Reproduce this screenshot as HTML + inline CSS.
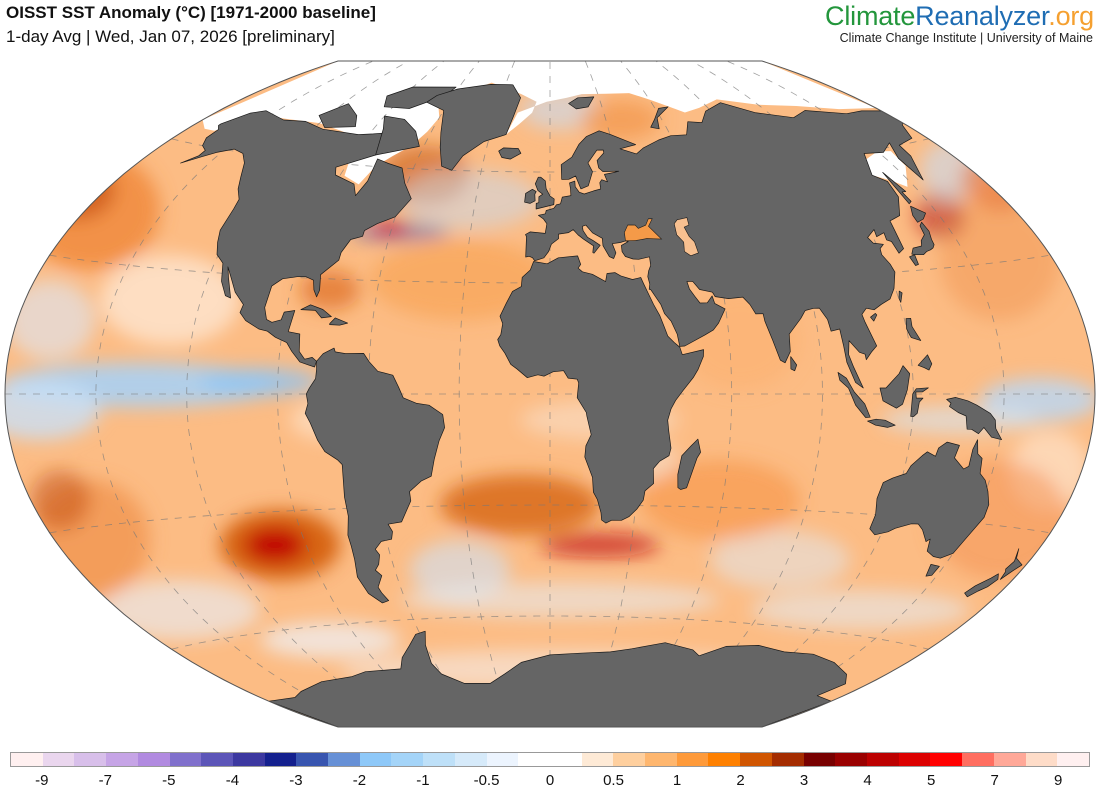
<!DOCTYPE html>
<html><head><meta charset="utf-8"><style>
html,body{margin:0;padding:0;background:#fff;width:1100px;height:794px;overflow:hidden;font-family:"Liberation Sans",sans-serif}
.t1{position:absolute;left:6px;top:3px;font-size:17px;font-weight:bold;color:#111}
.t2{position:absolute;left:6px;top:27px;font-size:17px;color:#111}
.logo{position:absolute;right:6px;top:1px;font-size:27px;letter-spacing:-0.2px}
.sub{position:absolute;right:7px;top:31px;font-size:12.5px;color:#222}
#cb{position:absolute;left:10px;top:752px;width:1080px;height:15px;border:1px solid #999;box-sizing:border-box;display:flex}
#cb div{flex:1}
.lb{position:absolute;top:772px;font-size:15px;color:#111;transform:translateX(-50%)}
</style></head><body>
<div class="t1">OISST SST Anomaly (°C) [1971-2000 baseline]</div>
<div class="t2">1-day Avg | Wed, Jan 07, 2026 [preliminary]</div>
<div class="logo"><span style="color:#23963c">Climate</span><span style="color:#1f6db3">Reanalyzer</span><span style="color:#f5a030">.org</span></div>
<div class="sub">Climate Change Institute | University of Maine</div>
<svg id="map" width="1100" height="794" style="position:absolute;left:0;top:0" xmlns="http://www.w3.org/2000/svg"></svg>
<div id="cb"></div>
<div id="lbs"></div>
<script>
const PI=Math.PI,S=212,CX=550,CY=394;
function P(lon,lat){const l=lon*PI/180,p=lat*PI/180;const a=Math.acos(Math.max(-1,Math.min(1,Math.cos(p)*Math.cos(l/2))));const s=a<1e-9?1:Math.sin(a)/a;
const x=0.5*(l*2/PI+2*Math.cos(p)*Math.sin(l/2)/s);const y=0.5*(p+Math.sin(p)/s);return [CX+x*S,CY-y*S];}
function dens(pts){let o=[];for(let i=0;i<pts.length;i++){const a=pts[i],b=pts[(i+1)%pts.length];o.push(a);if((Math.abs(a[1])>=89.9&&Math.abs(b[1])>=89.9)){const n=Math.ceil(Math.abs(b[0]-a[0])/5);for(let k=1;k<n;k++)o.push([a[0]+(b[0]-a[0])*k/n,a[1]]);}}return o;}
function path(pts,close=true){if(close)pts=dens(pts);return 'M'+pts.map(q=>{const r=P(q[0],q[1]);return r[0].toFixed(1)+','+r[1].toFixed(1)}).join('L')+(close?'Z':'');}
let ol=[];for(let la=-90;la<=90;la+=2)ol.push([180,la]);for(let lo=180;lo>=-180;lo-=5)ol.push([lo,90]);for(let la=90;la>=-90;la-=2)ol.push([-180,la]);for(let lo=-180;lo<=180;lo+=5)ol.push([lo,-90]);
const OUT='M'+ol.map(q=>{const r=P(q[0],q[1]);return r[0].toFixed(1)+','+r[1].toFixed(1)}).join('L')+'Z';
const land=[
[[-168,66],[-162,70],[-156,71.3],[-140,69.6],[-128,70],[-115,68.5],[-95,68],[-88,68.5],[-82,69],[-80,63],[-94,59],[-92,57],[-82,55],[-79,52],[-77,56],[-78,62],[-72,61],[-65,60],[-61,56],[-56,52],[-60,47],[-66,45],[-70,43],[-70,41.5],[-74,40.5],[-76,37],[-76,35],[-81,31],[-80,27],[-80.5,25.2],[-82,27],[-83,29.5],[-86,30.3],[-89,30.2],[-94,29.5],[-97,27.5],[-97.5,22],[-96,19],[-94,18.3],[-91,19],[-90.5,21],[-87,21.5],[-88,16],[-84,15.5],[-83.5,11],[-81.5,9],[-79,9.5],[-77.5,8.5],[-78,7],[-80,7.5],[-83,8.3],[-86,11],[-88,13.2],[-92,14.5],[-95,16],[-98,16.5],[-103,18.5],[-105.5,20.5],[-105,22.5],[-109,25.5],[-112.5,29.5],[-114.7,31.7],[-113,29],[-110,24],[-112,24.5],[-115,28],[-117,32.5],[-120.5,34.5],[-122.5,37.5],[-124,40.5],[-124,46],[-124.5,48.5],[-128,51],[-131,54],[-135,57.5],[-140,59.8],[-146,60.5],[-152,59],[-156,57.5],[-162,55],[-158,57.5],[-158,59],[-162,60],[-165,62],[-165,64.5],[-168,65.5]],
[[-80,63],[-62,66],[-68,70],[-78,73],[-90,73.5],[-85,70]],
[[-95,76],[-80,76],[-65,80],[-62,82.5],[-90,82],[-100,79]],
[[-125,72],[-117,76],[-105,73],[-100,70],[-115,69]],
[[-73,78],[-60,76],[-55,70],[-52,66],[-48,61],[-43,60],[-40,64],[-32,68],[-22,70],[-20,75],[-18,80],[-25,83.5],[-40,83.5],[-60,82],[-70,80]],
[[-24,65.5],[-22,66.4],[-15,66.3],[-13.5,65],[-18,63.4],[-22,63.8]],
[[5,58],[5,62],[10,64],[14,67.5],[18,69.5],[25,71],[30,70],[41,67],[33,66],[40,64.5],[44,66],[53,68],[60,69],[68,69],[73,72.5],[80,72],[87,75],[100,77],[113,73.5],[130,71],[141,72.5],[160,70],[170,70],[180,69],[180,65],[178,64.5],[173,61],[163,60],[162,57],[156,51],[155.5,57],[160,61],[152,59],[143,59.5],[137,54],[141,52],[140,48],[135,43.5],[130,42.5],[129.5,40],[129,35.5],[126.5,34.5],[126,37.5],[124.5,38],[125,39.8],[121.5,39],[122,40.8],[118,39],[119,37.5],[122.5,37],[120.5,36],[120,34.5],[121.5,32],[122,30],[119.5,26],[117,23.5],[113.5,22.3],[110.5,21],[108,21.5],[106,20],[106.5,18],[109,12],[107,10.5],[105,8.6],[104.8,10],[103,10.5],[100,13.5],[99.3,10],[100.5,7],[103.5,1.5],[101,2.9],[98.5,8],[98,12],[97.5,16.5],[94.5,16],[94,19],[92,22],[90,22],[87,21.5],[85,19.5],[80.3,15.5],[80,11],[78,8.1],[76.5,8.8],[74.5,14],[72.7,19],[72.5,21],[70,21],[68.5,23.5],[66.5,25.5],[61.5,25.2],[57,25.8],[56.3,27],[52,27.8],[50,30],[48,30],[48.5,28],[50,26],[51.5,24.2],[54,24.2],[56,26],[56.5,24],[59.8,22.5],[57,18.8],[55,17],[52,15.7],[45,12.8],[43.3,12.7],[42.7,16],[41,19.5],[39,21.5],[38,24],[35,28],[34.5,28.1],[34.9,29.5],[34.5,31.5],[35,33],[36,34.5],[36,36.8],[32,36.2],[30,36.3],[27.3,37],[26.3,38.3],[26.3,40],[29,41],[28,41.2],[26,40.8],[23,40.5],[24,38],[23,36.5],[21.5,37],[19.5,40],[19.5,42],[16,43.5],[13.7,45.6],[12.3,45.3],[12.5,44.1],[14,42.3],[16,41.4],[18.5,40.1],[16,38],[15.6,38.2],[16,40],[12.5,41.8],[10.5,43],[8.8,44.4],[7,43.6],[3.2,43.2],[3.2,42],[0.5,40.5],[-0.5,38.5],[-2.2,36.8],[-5.5,36],[-6.3,36.8],[-7.5,37.2],[-8.8,37],[-8.8,42.5],[-9.2,43.1],[-7.5,43.8],[-1.8,43.4],[-1.2,46],[-2.5,47.3],[-4.5,48.3],[-1.8,48.7],[-1.5,49.6],[1.5,50.2],[2.5,51.1],[4.2,51.4],[5,53.2],[8.5,53.6],[8.5,55.5],[8.2,57],[10.5,57.5],[10.5,56],[12,54.5],[14,54],[18,54.8],[21,55.3],[21,57],[22,57.8],[24.3,57.2],[23.5,59.2],[28,59.7],[30,60],[23,60],[21.5,61],[21.3,63],[25,65],[25,65.8],[22,65.8],[17,62.4],[18.5,60],[16,56.2],[12.8,55.4],[11,58.9],[8,58]],
[[-5.9,35.8],[-1,35.2],[3,36.8],[10,37.3],[11,35],[10,34],[11.5,33],[15,32.3],[19.5,30.3],[20.2,32.5],[23,32.7],[25,31.8],[29,30.8],[32,31.3],[32.6,29.9],[33.8,27.5],[35.5,24],[37.3,21],[38.5,18],[39.5,15.5],[41.5,13.8],[43.3,12.5],[44,10.5],[51.2,11.8],[51,10],[49,6.5],[47.5,4.5],[44,1],[41.5,-1.7],[40,-4],[39,-7],[39.5,-10],[40.5,-14.5],[40,-16.5],[37,-18],[35,-20],[35.5,-24],[32.8,-26],[32.5,-28.5],[30.5,-31],[28,-33],[25.5,-34],[22,-34],[20,-34.8],[18.4,-34],[18,-32],[16.5,-28.5],[15,-26.5],[14.5,-22.5],[11.7,-17],[12,-14],[13.7,-11],[12.2,-6],[12,-5],[9,-1],[9.5,3],[9,4],[6,4.3],[4.5,6.3],[1,6],[-2,4.8],[-4,5.2],[-7.5,4.4],[-11,6.8],[-13,8],[-15,11],[-16.8,13],[-17.5,14.7],[-16.5,16],[-16,19],[-17,21],[-15,24.5],[-13,27.7],[-10,29],[-9.8,31.5],[-7,33.5]],
[[44,-25],[45,-25.5],[47,-25],[49.5,-17],[50.5,-15.5],[49.3,-12],[47,-14],[44.3,-16.5],[43.5,-21.5]],
[[-77.5,8.5],[-75.5,10.5],[-72,12],[-71.5,11],[-68,10.6],[-62,10.7],[-60,8.5],[-57,6],[-52,5],[-50,1.8],[-48.5,-1],[-44,-2.5],[-40,-3],[-35.5,-5.5],[-35,-9],[-37,-12.5],[-39,-17.5],[-40.5,-22],[-44,-23.2],[-48.5,-26],[-48.5,-28.5],[-50.5,-31],[-53,-34],[-58,-34.5],[-57,-36.5],[-58,-38.5],[-62,-39],[-65,-41],[-64,-42.5],[-65.5,-45],[-67.5,-46.5],[-65.8,-48],[-69,-51],[-68.5,-52.5],[-67,-54.7],[-70,-55.2],[-74,-52.5],[-75.5,-48],[-74,-43.5],[-73.5,-40],[-73.5,-37],[-71.5,-32],[-71.3,-27],[-70.2,-18.5],[-71.5,-17.3],[-75.5,-15],[-77.5,-12],[-79.5,-7.5],[-81,-5],[-80,-2.5],[-80.5,0],[-79.5,1.5],[-77.5,4],[-77.3,6.5]],
[[114,-22],[113.5,-26],[115,-30],[115,-33.6],[117.8,-35],[122,-34],[124,-33],[129,-31.6],[131.5,-31.5],[134,-32.8],[137.5,-35.5],[138.5,-34.8],[140,-37.7],[143.5,-38.8],[146.5,-39],[150,-37.5],[151.2,-33.8],[153.5,-28.5],[153,-25.5],[150.8,-22.5],[148.5,-20],[146,-18.5],[145.3,-15],[143.5,-14],[142.5,-10.7],[141.5,-13],[141.5,-17],[140,-17.7],[136,-15.2],[136.8,-12.2],[132.5,-11.5],[130,-13],[129.5,-15],[126.5,-14],[125,-15],[122,-17.5],[121,-19.5],[117,-20.7]],
[[144.6,-40.7],[148.3,-40.9],[148,-43.2],[146,-43.6]],
[[172.7,-34.4],[174.5,-36.5],[178.5,-37.7],[177,-39.3],[175.2,-41.6],[174.6,-39.8],[173.8,-39.2],[174.6,-37.2]],
[[172.6,-40.5],[174.3,-41.7],[173,-43.7],[171,-45],[169,-46.7],[166.5,-46],[168,-44],[171.3,-41.7]],
[[-180,-78],[-160,-78],[-150,-76.5],[-130,-74.5],[-110,-74],[-100,-73],[-80,-73],[-75,-70],[-68,-67],[-62,-64],[-57,-63.3],[-60,-67],[-62,-72],[-60,-75],[-50,-77.8],[-35,-78],[-25,-75.5],[-15,-72.5],[0,-70.5],[15,-70],[30,-69.5],[40,-68.5],[55,-66.5],[70,-68],[75,-69.5],[85,-66.5],[100,-65.5],[115,-66.5],[130,-66.2],[145,-67.5],[160,-70],[168,-72.5],[165,-77],[180,-78],[180,-90],[-180,-90]],
[[130.9,34],[132.5,35.4],[136,35.7],[137,37],[139.5,38.3],[140,40.5],[141.5,41.3],[142,39],[141,37],[140.8,35.7],[139.8,35],[138.5,34.6],[136.8,34.3],[135,33.6],[132,33.8]],
[[129.6,33.4],[131.8,33.8],[131.5,31.4],[130.3,31.2]],
[[140,41.4],[140,43.2],[141.8,45.4],[145.5,43.3],[143,42]],
[[142,46],[143.5,46.5],[143,49],[144.7,49],[142.5,54.3],[142,51]],
[[120.3,22.5],[121.8,24.8],[121,25.3],[120.1,23.5]],
[[108.7,19.2],[110.6,20.1],[111,19.7],[109.5,18.2]],
[[79.8,6.5],[80,9.7],[81.8,7.5],[81,6]],
[[120,16],[120.6,18.5],[122.2,18.5],[122,16.5],[124,13],[121,13.8],[120.6,14.5]],
[[122,7],[125.5,9.5],[126.6,7.3],[125.5,5.8],[124,6.4]],
[[109,1.5],[110,-1.7],[114.5,-3.5],[116.5,-2.5],[118,1],[119,5],[117,7],[115.5,5],[113,3.1],[111,1.5]],
[[95.3,5.5],[98,4],[100.5,0.5],[104,-2.5],[106,-5.8],[104.5,-5.9],[101,-2.8],[98.6,1.5],[95.8,3.5]],
[[105.2,-6.8],[108,-6.3],[111,-6.5],[114.5,-7.7],[112,-8.3],[108,-7.8]],
[[119.4,-5.5],[119.8,0],[121,1.3],[125,1.5],[123,0.5],[120.8,0.5],[121,-1],[123.2,-1],[122,-2],[121.5,-4.7],[120.4,-5.5]],
[[131,-1.3],[134,-0.8],[138,-1.6],[141,-2.6],[145.7,-4.5],[147.5,-6],[148,-8],[150.5,-10.5],[147,-10],[144,-7.8],[142.5,-9.3],[140,-8.3],[138.5,-8.3],[137.7,-5.2],[135,-4.4],[132,-3],[132.5,-2.2]],
[[-5.5,50],[1.5,51.2],[1.7,52.7],[0,53.5],[-1.6,55.5],[-2,57.6],[-4,58.6],[-5,58.6],[-6.2,56.8],[-5,55],[-3,54],[-4.5,53.3],[-4.5,51.7],[-5.5,51.5]],
[[-6,52.2],[-6.2,54],[-5.7,54.7],[-7.3,55.3],[-10,54.2],[-10.2,51.8],[-8,51.5]],
[[-85,21.8],[-82,23.1],[-77.5,22],[-74.2,20.2],[-77.5,19.8],[-80,21.7]],
[[-74.4,18.4],[-72.8,19.9],[-68.4,18.6],[-71,18],[-74.4,18.1]],
[[52,71.5],[56,73.5],[62,76.5],[68,76.8],[58,74],[56,71]],
[[11,78.5],[17,80],[27,80.2],[22,77.5],[15,77]]
];
const seas=[
[[28,41.3],[28,43.5],[29.7,45.5],[32.5,45.4],[33.5,44.5],[36.5,45.3],[38,47],[39.5,47],[37.5,45],[41.5,41.5],[36,41.7],[31.5,41.2]],
[[49,46.5],[53,47],[53,45],[51,44.5],[52,42],[53.5,40.5],[54,37.5],[51,36.8],[49,38],[49.5,40.5],[47.5,42.5],[47.5,45.5]]
];
const ice=[
[[-180,66],[-172,64],[-166,64],[-162,66],[-160,70],[-140,70],[-120,70],[-100,68],[-92,64],[-88,57],[-80,55],[-77,60],[-72,63],[-66,66],[-62,70],[-60,74],[-66,78],[-40,84],[-18,81],[-8,79],[-10,76],[-16,73],[-22,70],[-18,76],[-2,79],[10,80],[20,81],[35,81],[50,81],[60,79],[68,77],[75,75],[85,76],[100,78],[120,75.5],[140,74],[160,71.5],[180,70],[180,90],[-180,90]],
[[137,54],[141,58],[150,59.5],[156,59],[155,55],[147,50],[143,52]]
];
const blobs=[
[90,210,70,60,'#f08a3c',0.85],[75,190,40,30,'#c85010',0.7],[170,300,70,45,'#ffffff',0.5],[50,320,45,40,'#dce8f8',0.6],
[140,385,140,22,'#a8d0f4',0.9],[260,382,60,14,'#8ec4f4',0.8],[40,410,60,30,'#c8e0f8',0.8],[330,420,40,20,'#fde8d4',0.6],
[1040,400,60,22,'#b8d8f8',0.8],[960,420,80,14,'#d4e8f8',0.6],[1050,470,40,40,'#ffffff',0.4],
[280,545,60,35,'#d05500',0.85],[275,545,30,17,'#c00000',0.95],[180,610,80,30,'#e8f0fc',0.6],[90,540,60,60,'#f09048',0.7],[60,500,30,30,'#c04a10',0.5],
[520,505,80,30,'#d86a1a',0.85],[600,545,60,12,'#c01010',0.7],[460,570,50,30,'#cfe2f8',0.6],[560,600,160,18,'#e6eef8',0.55],
[780,560,70,30,'#e0ecf8',0.5],[720,500,80,40,'#f59040',0.55],[860,610,110,20,'#e4eefa',0.55],[330,640,70,18,'#eef4fc',0.7],
[560,670,220,20,'#f4f6fc',0.5],[460,280,90,40,'#f7a050',0.6],[600,420,80,20,'#f8f0ea',0.4],[740,340,60,50,'#fbb070',0.6],
[1000,260,60,60,'#f4a060',0.7],[940,215,25,25,'#b01010',0.5],[950,170,30,30,'#c8dcf4',0.6],[1000,180,40,30,'#e06020',0.5],
[400,232,50,10,'#3a50b8',0.5],[390,228,18,7,'#d00000',0.7],[425,175,45,30,'#c85a14',0.6],[470,200,70,30,'#c8dcf4',0.5],
[330,290,30,20,'#d86018',0.6],[1000,520,70,60,'#f49050',0.5],[640,460,40,20,'#f6f0f0',0.4],[560,110,40,20,'#c8dcf4',0.6],[620,120,40,20,'#f09040',0.6]
];
let s='<defs><clipPath id="cl"><path d="'+OUT+'"/></clipPath><filter id="bl" x="-20%" y="-20%" width="140%" height="140%"><feGaussianBlur stdDeviation="9"/></filter></defs>';
s+='<g clip-path="url(#cl)"><path d="'+OUT+'" fill="#fcbc84"/><g filter="url(#bl)">';
blobs.forEach(b=>{s+=`<ellipse cx="${b[0]}" cy="${b[1]}" rx="${b[2]}" ry="${b[3]}" fill="${b[4]}" opacity="${b[5]}"/>`;});
s+='</g>';
ice.forEach(p=>s+='<path d="'+path(p)+'" fill="#fff"/>');
let g='';
for(let lo=-150;lo<=150;lo+=30){let pts=[];for(let la=-90;la<=90;la+=3)pts.push([lo,la]);g+=path(pts,false);}
for(let la=-60;la<=60;la+=30){let pts=[];for(let lo=-180;lo<=180;lo+=3)pts.push([lo,la]);g+=path(pts,false);}
s+='<path d="'+g+'" fill="none" stroke="#777" stroke-width="0.8" stroke-dasharray="7 7" opacity="0.7"/>';
land.forEach(p=>s+='<path d="'+path(p)+'" fill="#656565" stroke="#1a1a1a" stroke-width="0.7" stroke-linejoin="round"/>');
s+='<path d="'+path(seas[0])+'" fill="#f59a48" stroke="#1a1a1a" stroke-width="0.6"/>';
s+='<path d="'+path(seas[1])+'" fill="#f8c090" stroke="#1a1a1a" stroke-width="0.6"/>';
s+='</g><path d="'+OUT+'" fill="none" stroke="#555" stroke-width="1"/>';
document.getElementById('map').innerHTML=s;
const cols=['#fff0f0','#ead6ee','#d8bfea','#c6a4e6','#b18ae0','#8070cc','#5c55b8','#3c38a0','#14208e','#3855b0','#6690d6','#8ec8f8','#a4d4f8','#bee0f8','#d6eafa','#ecf4fe','#ffffff','#ffffff','#feead6','#fecf9e','#feb66e','#fe9a3a','#fe8000','#d05500','#a42c00','#780000','#9a0000','#bc0000','#dc0000','#ff0000','#ff6e60','#ffa898','#fedcc8','#fff0f0'];
document.getElementById('cb').innerHTML=cols.map(c=>`<div style="background:${c}"></div>`).join('');
const labs=['-9','-7','-5','-4','-3','-2','-1','-0.5','0','0.5','1','2','3','4','5','7','9'];
document.getElementById('lbs').innerHTML=labs.map((t,i)=>`<div class="lb" style="left:${(10+(2*i+1)*1080/34).toFixed(1)}px">${t}</div>`).join('');
</script>
</body></html>
